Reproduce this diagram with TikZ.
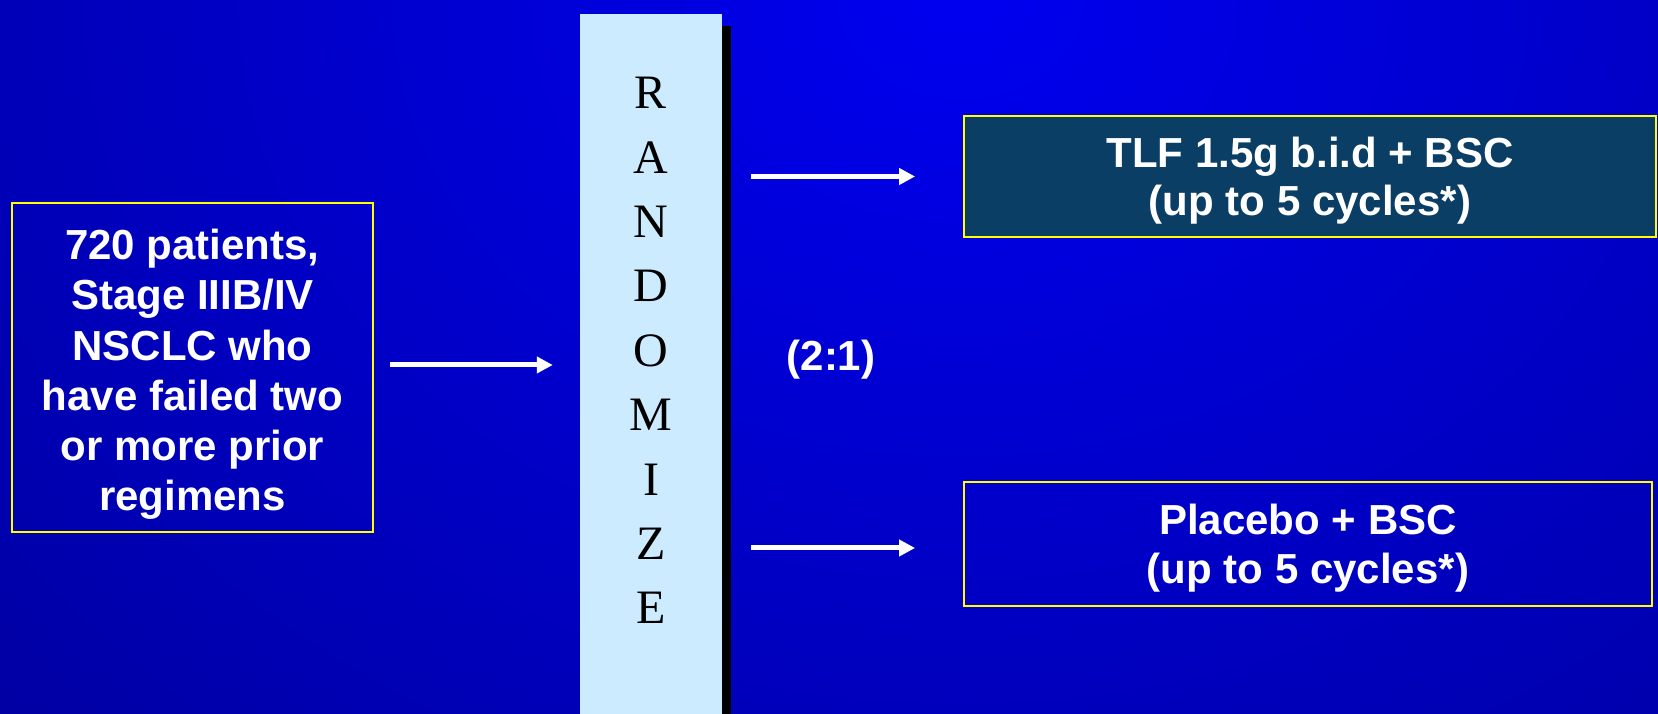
\documentclass[tikz,border=0pt]{standalone}
\usepackage{fontspec}
\setmainfont{Liberation Sans}
\newfontfamily\serifletters{Liberation Serif}
\usetikzlibrary{arrows.meta,shadows,calc}

% glow of the slide background: bright blue fading to navy
\pgfdeclareradialshading{bgglow}{\pgfpoint{0bp}{0bp}}{%
  rgb(0bp)=(0,0,0.94);rgb(25bp)=(0,0,0.5);rgb(50bp)=(0,0,0.5)}
\definecolor{barblue}{RGB}{204,235,255}
\definecolor{armteal}{RGB}{10,62,100}
\definecolor{frameyellow}{RGB}{255,255,0}

\begin{document}
\begin{tikzpicture}[x=1pt,y=1pt,
  box/.style={draw=frameyellow, line width=1.8pt, inner sep=0pt},
  boxtext/.style={inner sep=0pt, align=center, text=white,
    font=\bfseries\fontsize{42}{50.2}\selectfont},
  armtext/.style={boxtext, font=\bfseries\fontsize{42}{48.5}\selectfont},
  arr/.style={draw=white, line width=5pt, -{Triangle[length=16pt,width=16pt]}},
]
\useasboundingbox (0,0) rectangle (1658,714);
\clip (0,0) rectangle (1658,714);
\shade[shading=bgglow] (960-1920,714-1540) rectangle (960+1920,714+1540);

% patient population
\node[box, minimum width=361pt, minimum height=329pt] (lbox) at (192.5,346.5) {};
\node[boxtext] (ltext) at ([yshift=-7pt]lbox.center)
  {720 patients,\\Stage IIIB/IV\\NSCLC who\\have failed two\\or more prior\\regimens};

% randomisation bar with its shadow
\node[fill=barblue, minimum width=142pt, minimum height=705pt, inner sep=0pt,
  general shadow={fill=black, shadow xshift=9pt, shadow yshift=-12pt}] (bar) at (651,347.5) {};
\node[font=\serifletters\fontsize{48}{64.4}\selectfont, align=center, inner sep=0pt]
  (rword) at (651,363.5) {R\\A\\N\\D\\O\\M\\I\\Z\\E};

% allocation ratio
\node[boxtext] (ratio) at (831,354) {(2:1)};

% treatment arms
\node[box, fill=armteal, minimum width=692pt, minimum height=121pt] (tlf) at (1310,537.5) {};
\node[armtext] (tlftext) at ([yshift=-4pt]tlf.center) {TLF 1.5g b.i.d + BSC\\(up to 5 cycles*)};
\node[box, minimum width=688pt, minimum height=124pt] (pbo) at (1308,170) {};
\node[armtext] (pbotext) at ([yshift=-4pt]pbo.center) {Placebo + BSC\\(up to 5 cycles*)};

% arrows
\draw[arr, shorten <=16pt, shorten >=27pt] ([yshift=2.5pt]lbox.east) -- ([yshift=2.5pt]lbox.east -| bar.west);
\draw[arr, shorten <=29pt, shorten >=48pt] (tlf.west -| bar.east) -- (tlf.west);
\draw[arr, shorten <=29pt, shorten >=48pt] ([yshift=-4pt]pbo.west -| bar.east) -- ([yshift=-4pt]pbo.west);
\end{tikzpicture}
\end{document}
